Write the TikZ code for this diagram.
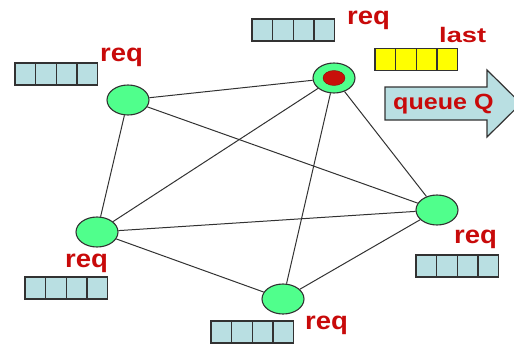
\documentclass[tikz,border=0pt]{standalone}
\usepackage{fontspec}
\setmainfont{Liberation Sans}
\newfontfamily\reqfont[FakeStretch=1.1]{Liberation Sans}
\newfontfamily\lastfont[FakeStretch=1.3]{Liberation Sans}
\newfontfamily\qfont[FakeStretch=1.14]{Liberation Sans}
\usetikzlibrary{shapes.geometric}
\definecolor{cellblue}{RGB}{185,223,226}
\definecolor{nodegreen}{RGB}{80,255,140}
\definecolor{tokenred}{RGB}{200,16,10}
\definecolor{labelred}{RGB}{200,10,10}
\definecolor{outline}{RGB}{50,50,50}
\definecolor{qyellow}{RGB}{255,255,0}
% a row of four queue cells: name, left x, centre y, fill colour
\newcommand\cellrow[4]{%
  \foreach \k in {0,1,2,3}{%
    \node[cell,fill=#4] (#1-\k) at ({#2+20.6*\k+10.3},#3) {};}}
\begin{document}
\begin{tikzpicture}[x=1pt,y=-1pt,
  site/.style={ellipse,draw=outline,fill=nodegreen,minimum width=42pt,
    minimum height=30pt,inner sep=0pt,line width=1.1pt},
  link/.style={draw=outline,line width=1pt},
  lbl/.style={text=labelred,font=\reqfont\bfseries\fontsize{25}{28}\selectfont,
    inner sep=0pt,anchor=base west},
  cell/.style={draw=outline,line width=1.4pt,minimum width=20.6pt,
    minimum height=22pt,inner sep=0pt,outer sep=0pt}]
\clip (0,0) rectangle (514,345);
\useasboundingbox (0,0) rectangle (514,345);

% sites of the network
\node[site] (root) at (334,78) {};
\node[ellipse,fill=tokenred,draw=tokenred!70!black,minimum width=22pt,
  minimum height=15pt,inner sep=0pt] (token) at (334,78) {};
\node[site] (nw) at (128,100) {};
\node[site] (sw) at (97,232) {};
\node[site] (east) at (437,210) {};
\node[site] (south) at (283,299) {};

% links
\draw[link] (nw) -- (root);
\draw[link] (nw) -- (sw);
\draw[link] (nw) -- (east);
\draw[link] (root) -- (sw);
\draw[link] (root) -- (south);
\draw[link] (root) -- (east);
\draw[link] (sw) -- (east);
\draw[link] (sw) -- (south);
\draw[link] (south) -- (east);

% request queues
\cellrow{qroot}{252}{30}{cellblue}
\cellrow{qnw}{15}{74}{cellblue}
\cellrow{qsw}{25}{288}{cellblue}
\cellrow{qeast}{416}{266}{cellblue}
\cellrow{qsouth}{211}{332}{cellblue}
\cellrow{qlast}{375}{59.5}{qyellow}

% labels
\node[lbl] (lroot) at (347,25) {req};
\node[lbl] (lnw) at (100,62) {req};
\node[lbl] (lsw) at (65,267) {req};
\node[lbl] (least) at (454,243) {req};
\node[lbl] (lsouth) at (305,329) {req};
\node[lbl,font=\lastfont\bfseries\fontsize{21}{24}\selectfont] (llast)
  at (439,42.7) {last};

% queue arrow
\draw[draw=outline,fill=cellblue,line width=1.2pt]
  (385,87) -- (487,87) -- (487,70) -- (521,103.5) -- (487,137)
  -- (487,120) -- (385,120) -- cycle;
\node[lbl,font=\qfont\bfseries\fontsize{22}{26}\selectfont] (lq)
  at (393,109.3) {queue Q};
\end{tikzpicture}
\end{document}
